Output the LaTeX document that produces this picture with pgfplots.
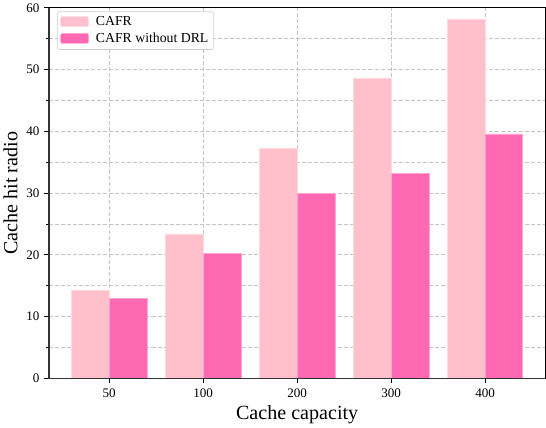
\documentclass[border=0pt]{standalone}
\usepackage{fontspec}
\setmainfont{Liberation Serif}
\usepackage{pgfplots}
\pgfplotsset{compat=1.18}

\definecolor{lightpink}{HTML}{FFC0CB}
\definecolor{hotpink}{HTML}{FF69B4}
\definecolor{gridgray}{HTML}{C4C4C4}

\begin{document}
\begin{tikzpicture}
\begin{axis}[
    scale only axis,
    width=494pt, height=369pt,
    xmin=-0.64, xmax=4.64,
    ymin=0, ymax=60,
    xtick={0,1,2,3,4},
    xticklabels={50,100,200,300,400},
    ytick={0,10,...,60},
    minor y tick num=1,
    tick align=outside,
    tick pos=left,
    major tick length=5pt,
    minor tick length=3pt,
    every tick/.style={black, line width=0.8pt},
    tick label style={font=\fontsize{13}{15}\selectfont},
    yticklabel style={xshift=-1pt},
    xticklabel style={yshift=-2pt},
    /pgf/number format/assume math mode=true,
    xmajorgrids, ymajorgrids, yminorgrids,
    grid style={gridgray, line width=0.8pt, dash pattern=on 4pt off 2pt},
    minor grid style={gridgray, line width=0.8pt, dash pattern=on 4pt off 2pt},
    axis line style={black, line width=0.8pt},
    xlabel={Cache capacity},
    ylabel={Cache hit radio},
    label style={font=\fontsize{20}{24}\selectfont},
    xlabel shift=1pt,
    ylabel shift=2pt,
    ybar,
    bar width=0.4,
    legend style={
        at={(rel axis cs:0.016,0.99)}, anchor=north west,
        draw=gridgray!80, rounded corners=2pt, line width=0.6pt,
        font=\fontsize{13.7}{15}\selectfont,
        row sep=2pt, inner xsep=3pt, inner ysep=3pt,
        /tikz/every odd column/.append style={column sep=5pt},
    },
    legend cell align=left,
    legend image code/.code={
        \fill[#1] (0pt,-4.5pt) rectangle (28pt,5.5pt);
    },
    after end axis/.code={
        \draw[black!80, line width=1.4pt] (rel axis cs:0,1) -- (rel axis cs:0,0) -- (rel axis cs:1,0);
    },
]
\addplot[fill=lightpink, draw=white!40!lightpink, line width=0.5pt, bar shift=-0.2]
    coordinates {(0,14.3) (1,23.4) (2,37.2) (3,48.6) (4,58.2)};
\addlegendentry{CAFR}
\addplot[fill=hotpink, draw=white!40!hotpink, line width=0.5pt, bar shift=0.2]
    coordinates {(0,13.0) (1,20.2) (2,29.9) (3,33.2) (4,39.6)};
\addlegendentry{CAFR without DRL}
\end{axis}
\end{tikzpicture}
\end{document}
